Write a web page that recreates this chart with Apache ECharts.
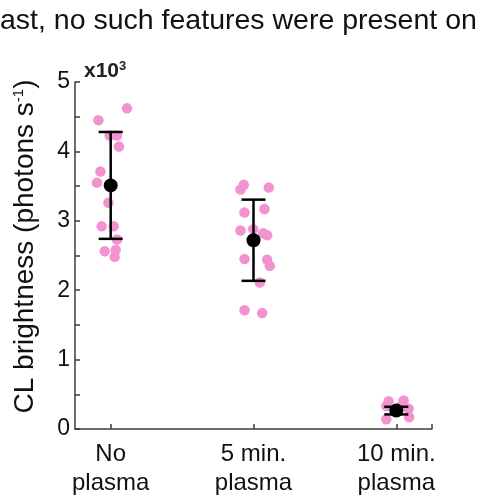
<!DOCTYPE html>
<html>
<head>
<meta charset="utf-8">
<script src="https://cdn.jsdelivr.net/npm/echarts@6/dist/echarts.min.js"></script>
<style>
  html, body { margin: 0; padding: 0; background: #fff; }
  #chart { width: 485px; height: 498px; }
</style>
</head>
<body>
<div id="chart"></div>
<script>
// Treatment groups along the x axis (positions 1, 2, 3)
const categories = ['No\nplasma', '5 min.\nplasma', '10 min.\nplasma'];
const categoryPos = [1, 2, 3];

// Individual measurements, CL brightness in units of 10^3 photons/s: [x position (jittered), value]
const noPlasma = [
  [1.114, 4.62], [0.914, 4.45], [0.993, 4.23], [1.044, 4.23], [1.058, 4.07],
  [0.928, 3.71], [0.904, 3.55], [0.984, 3.26], [0.937, 2.92], [1.021, 2.92],
  [1.044, 2.73], [0.958, 2.56], [1.035, 2.58], [1.028, 2.48]
];
const plasma5 = [
  [1.932, 3.52], [1.909, 3.45], [2.107, 3.48], [1.937, 3.12], [2.077, 3.17],
  [1.909, 2.86], [1.998, 2.88], [2.068, 2.82], [2.096, 2.79], [1.937, 2.45],
  [2.096, 2.44], [2.114, 2.35], [2.044, 2.11], [1.937, 1.71], [2.061, 1.67]
];
const plasma10 = [
  [2.946, 0.40], [3.051, 0.41], [2.930, 0.33], [3.086, 0.29], [2.930, 0.14],
  [3.090, 0.17], [3.000, 0.24], [3.030, 0.32]
];

// Group mean and standard deviation
const means = [3.51, 2.72, 0.265];
const sds = [0.77, 0.585, 0.055];

// Axis ticks
const yTickLabels = [0, 1, 2, 3, 4, 5];
const xTickValues = [1, 2, 3, 3.25];

const pink = '#f293d0';
const axisColor = '#3c3c3c';
const font = '"Liberation Sans", Arial, sans-serif';

const chart = echarts.init(document.getElementById('chart'), null, { renderer: 'canvas' });

const barData = categoryPos.map((p, i) => [p, means[i], means[i] - sds[i], means[i] + sds[i]]);
const meanData = categoryPos.map((p, i) => [p, means[i]]);

function pointSeries(data) {
  return {
    type: 'scatter',
    data: data,
    symbol: 'circle',
    symbolSize: 10.5,
    itemStyle: { color: pink, opacity: 1 },
    z: 2
  };
}

chart.setOption({
  animation: false,
  backgroundColor: '#fff',
  grid: { left: 75, right: 53, top: 82, bottom: 60 },
  graphic: [
    {
      type: 'text',
      left: 0,
      top: 7,
      style: { text: 'ast, no such features were present on', font: '28.5px ' + font, fill: '#111' }
    },
    {
      type: 'text',
      left: 84,
      top: 60,
      style: {
        text: '{b|x10}{s|3}',
        rich: {
          b: { font: 'bold 21px ' + font, fill: '#222' },
          s: { font: 'bold 13px ' + font, fill: '#222', verticalAlign: 'top', padding: [0, 0, 10, 0] }
        }
      }
    }
  ],
  xAxis: {
    type: 'value',
    min: 0.75,
    max: 3.25,
    splitLine: { show: false },
    axisLine: { show: true, lineStyle: { color: axisColor, width: 1.5 } },
    axisTick: { show: true, inside: true, length: 5, customValues: xTickValues, lineStyle: { color: axisColor, width: 1.5 } },
    axisLabel: {
      customValues: categoryPos,
      formatter: v => categories[Math.round(v) - 1],
      color: '#111',
      fontFamily: font,
      fontSize: 24,
      lineHeight: 29,
      margin: 11
    }
  },
  yAxis: {
    type: 'value',
    min: 0,
    max: 5,
    interval: 0.5,
    name: '{n|CL brightness (photons s}{s|-1}{n|)}',
    nameLocation: 'middle',
    nameGap: 36,
    nameRotate: 90,
    nameTextStyle: {
      padding: [0, 0, 0, 18],
      rich: {
        n: { fontFamily: font, fontSize: 28, color: '#111' },
        s: { fontFamily: font, fontSize: 15, color: '#111', verticalAlign: 'top', padding: [0, 0, 13, 0] }
      }
    },
    splitLine: { show: false },
    axisLine: { show: true, lineStyle: { color: axisColor, width: 1.5 } },
    axisTick: { show: true, inside: true, length: 5, lineStyle: { color: axisColor, width: 1.5 } },
    axisLabel: {
      customValues: yTickLabels,
      color: '#111',
      fontFamily: font,
      fontSize: 23,
      margin: 5
    }
  },
  series: [
    pointSeries(noPlasma),
    pointSeries(plasma5),
    pointSeries(plasma10),
    {
      type: 'custom',
      data: barData,
      z: 3,
      renderItem: function (params, api) {
        const x = api.value(0);
        const lo = api.coord([x, api.value(2)]);
        const hi = api.coord([x, api.value(3)]);
        const half = 12;
        const style = { stroke: '#000', lineWidth: 2.5, fill: null };
        return {
          type: 'group',
          children: [
            { type: 'line', shape: { x1: lo[0], y1: lo[1], x2: hi[0], y2: hi[1] }, style: style },
            { type: 'line', shape: { x1: hi[0] - half, y1: hi[1], x2: hi[0] + half, y2: hi[1] }, style: style },
            { type: 'line', shape: { x1: lo[0] - half, y1: lo[1], x2: lo[0] + half, y2: lo[1] }, style: style }
          ]
        };
      }
    },
    {
      type: 'scatter',
      data: meanData,
      symbol: 'circle',
      symbolSize: 14,
      itemStyle: { color: '#000', opacity: 1 },
      z: 4
    }
  ]
});
</script>
</body>
</html>
